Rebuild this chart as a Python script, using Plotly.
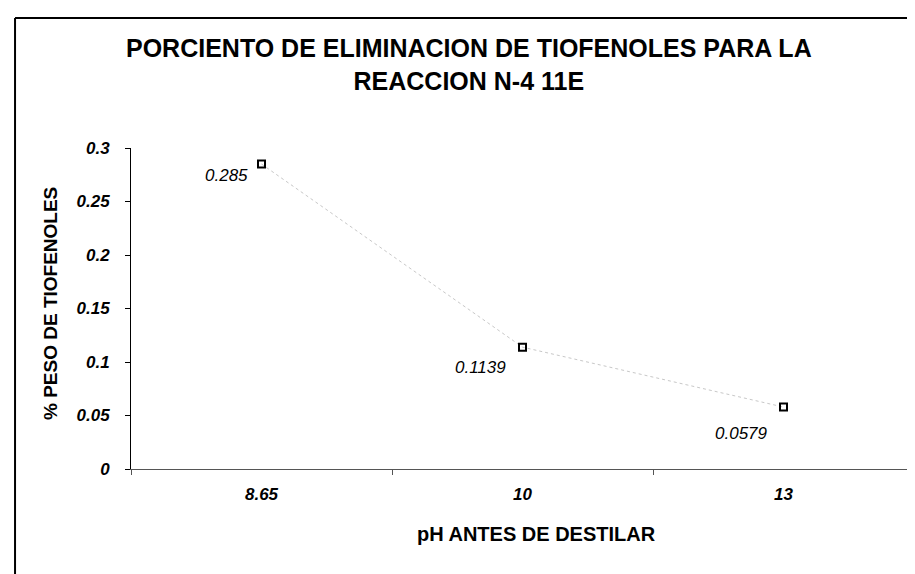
import plotly.graph_objects as go

categories = ["8.65", "10", "13"]
values = [0.285, 0.1139, 0.0579]
value_labels = ["0.285", "0.1139", "0.0579"]
y_ticks = [0, 0.05, 0.1, 0.15, 0.2, 0.25, 0.3]
y_tick_labels = ["0", "0.05", "0.1", "0.15", "0.2", "0.25", "0.3"]

# label offsets (px) relative to each point
label_dx = [-12, -15, -14]
label_dy = [-11, -20, -26]

FONT = "Liberation Sans, Arial, sans-serif"

fig = go.Figure()
fig.add_trace(go.Scatter(
    x=categories, y=values, mode="lines+markers",
    line=dict(color="#c8c8c8", width=1, dash="dot"),
    marker=dict(symbol="square-open", size=7, color="black", line=dict(width=2)),
    showlegend=False, hoverinfo="skip",
))

for i, (v, t, dx, dy) in enumerate(zip(values, value_labels, label_dx, label_dy)):
    fig.add_annotation(x=i, y=v, text=f"<i>{t}</i>", showarrow=False,
                       xanchor="right", yanchor="middle", xshift=dx, yshift=dy,
                       font=dict(family=FONT, size=17, color="black"))

fig.add_annotation(xref="paper", yref="paper", x=0.4317, y=1.26,
                   text="<b>PORCIENTO DE ELIMINACION DE TIOFENOLES PARA LA<br>REACCION N-4 11E</b>",
                   showarrow=False, xanchor="center", yanchor="middle",
                   font=dict(family=FONT, size=25, color="black"))
fig.add_annotation(xref="paper", yref="paper", x=0.5185, y=-0.2025,
                   text="<b>pH ANTES DE DESTILAR</b>", showarrow=False,
                   xanchor="center", yanchor="middle",
                   font=dict(family=FONT, size=20, color="black"))
fig.add_annotation(xref="paper", yref="paper", x=-0.1034, y=0.514,
                   text="<b>% PESO DE TIOFENOLES</b>", showarrow=False, textangle=-90,
                   xanchor="center", yanchor="middle",
                   font=dict(family=FONT, size=19, color="black"))

# chart border (left and top edges)
fig.add_shape(type="line", xref="paper", yref="paper", x0=-0.1481, x1=-0.1481, y0=1.405, y1=-0.5,
              line=dict(color="black", width=2))
fig.add_shape(type="line", xref="paper", yref="paper", x0=-0.1481, x1=1.2, y0=1.405, y1=1.405,
              line=dict(color="black", width=2))

fig.update_layout(
    width=915, height=574,
    margin=dict(l=123, r=9, t=140, b=113),
    paper_bgcolor="white", plot_bgcolor="white",
    font=dict(family=FONT, color="black"),
    xaxis=dict(type="category", range=[-0.5, 2.5], showgrid=False, zeroline=False,
               showline=True, linecolor="#555555", linewidth=1,
               ticks="outside", tickson="boundaries", ticklen=5, tickcolor="#555555",
               tickfont=dict(family=FONT, size=17, color="black", weight="bold", style="italic"),
               ticklabelstandoff=10),
    yaxis=dict(range=[0, 0.3], tickvals=y_ticks, ticktext=y_tick_labels,
               showgrid=False, zeroline=False,
               showline=True, linecolor="black", linewidth=1,
               ticks="outside", ticklen=5, tickcolor="black",
               tickfont=dict(family=FONT, size=17, color="black", weight="bold", style="italic"),
               ticklabelstandoff=12),
)

fig.write_html("out.html")
